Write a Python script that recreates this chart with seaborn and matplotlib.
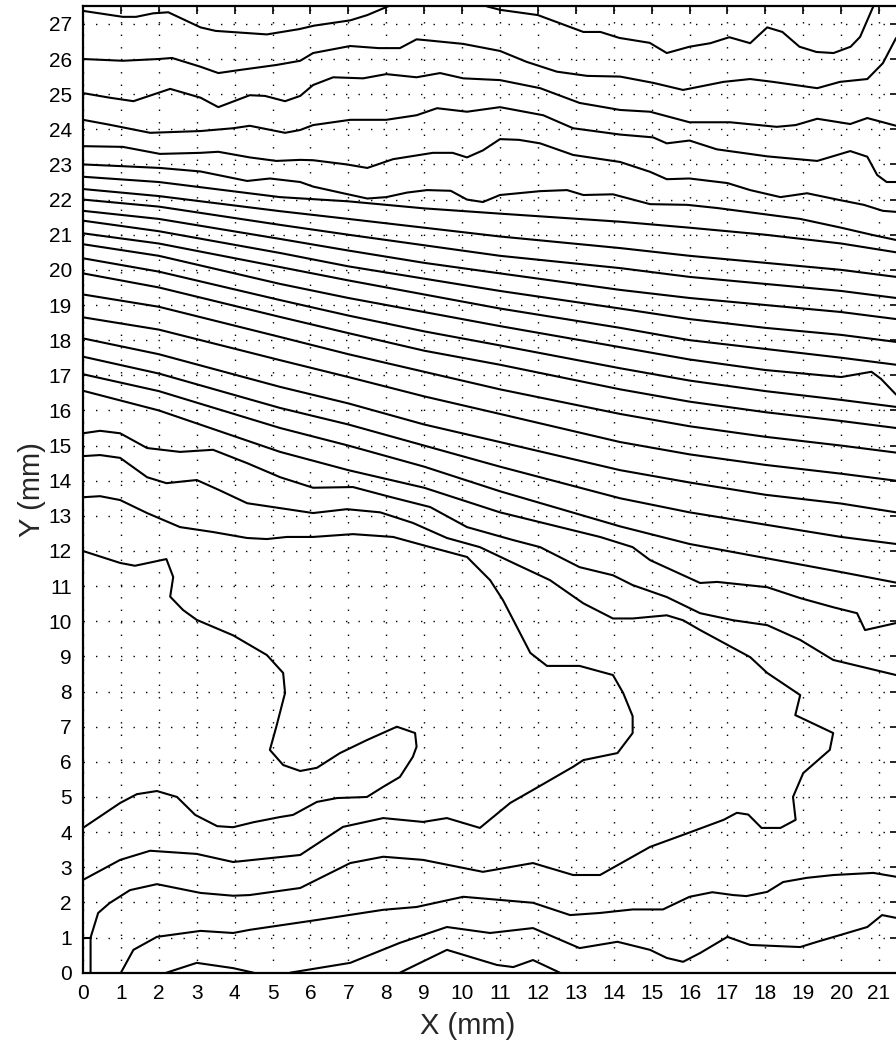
import matplotlib
matplotlib.use("Agg")
import matplotlib.pyplot as plt
import numpy as np
import pandas as pd
import seaborn as sns

# ---- contour lines (x, y in mm) ----
c_top1_x = [0, 1.05, 1.4, 1.85, 2.25, 3.1, 3.5, 4.85, 5.7, 6.1, 7.05, 7.5, 8.05]
c_top1_y = [27.37, 27.2, 27.2, 27.3, 27.33, 26.9, 26.8, 26.7, 26.85, 26.95, 27.1, 27.25, 27.5]
c_top2_x = [10.65, 11.0, 12.0, 13.2, 13.65, 14.15, 14.95, 15.4, 16.0, 16.55, 17.05, 17.6, 18.05, 18.45, 18.9, 19.35, 19.8, 20.25, 20.5, 20.85]
c_top2_y = [27.5, 27.4, 27.25, 26.77, 26.77, 26.6, 26.46, 26.17, 26.35, 26.45, 26.62, 26.45, 26.9, 26.77, 26.35, 26.2, 26.17, 26.35, 26.63, 27.5]
c_26_x = [0, 1.05, 2.0, 2.35, 3.1, 3.57, 4.15, 5.1, 5.73, 6.07, 7.05, 7.8, 8.36, 8.8, 9.1, 10.03, 11.0, 11.7, 12.5, 13.3, 14.17, 15.05, 15.83, 16.9, 17.6, 18.2, 19.37, 19.97, 20.69, 21.1, 21.45]
c_26_y = [26.0, 25.95, 26.0, 26.03, 25.78, 25.6, 25.69, 25.83, 25.95, 26.17, 26.37, 26.31, 26.31, 26.56, 26.53, 26.43, 26.23, 25.92, 25.64, 25.52, 25.5, 25.32, 25.12, 25.35, 25.43, 25.35, 25.17, 25.35, 25.43, 25.88, 26.6]
c_25_x = [0, 0.7, 1.33, 2.3, 3.1, 3.57, 4.4, 4.8, 5.33, 5.73, 6.07, 6.6, 7.39, 8.0, 8.8, 9.42, 10.03, 11.0, 12.06, 13.1, 14.17, 14.96, 16.0, 17.07, 18.3, 18.8, 19.37, 20.24, 20.69, 21.45]
c_25_y = [25.03, 24.9, 24.8, 25.15, 24.9, 24.63, 24.97, 24.95, 24.8, 24.95, 25.26, 25.48, 25.45, 25.57, 25.48, 25.6, 25.45, 25.4, 25.17, 24.75, 24.55, 24.5, 24.2, 24.2, 24.07, 24.12, 24.3, 24.15, 24.32, 24.1]
c_24_x = [0, 0.7, 1.77, 3.1, 3.96, 4.4, 5.33, 5.73, 6.07, 7.05, 8.0, 8.8, 9.34, 10.13, 11.0, 12.14, 12.93, 14.17, 15.04, 15.4, 16.0, 16.72, 18.05, 19.37, 20.24, 20.69, 20.95, 21.2, 21.45]
c_24_y = [24.27, 24.13, 23.9, 23.95, 24.03, 24.1, 23.9, 23.98, 24.12, 24.27, 24.27, 24.4, 24.6, 24.5, 24.63, 24.4, 24.03, 23.85, 23.77, 23.6, 23.68, 23.43, 23.23, 23.1, 23.38, 23.22, 22.7, 22.5, 22.5]
c_23a_x = [0, 1.05, 2.03, 3.1, 3.57, 4.4, 5.1, 5.73, 6.07, 6.96, 7.5, 8.18, 9.23, 9.75, 10.13, 10.55, 11.0, 11.5, 12.06, 12.93, 14.17, 14.96, 15.4, 16.0, 17.0, 17.6, 18.4, 19.1, 19.9, 20.6, 21.1, 21.45]
c_23a_y = [23.52, 23.5, 23.3, 23.33, 23.36, 23.2, 23.1, 23.13, 23.12, 23.0, 22.9, 23.15, 23.33, 23.33, 23.2, 23.4, 23.72, 23.7, 23.6, 23.27, 23.07, 22.79, 22.58, 22.6, 22.47, 22.27, 22.07, 22.18, 22.0, 21.85, 21.68, 21.65]
c_23b_x = [0, 1.05, 2.03, 3.1, 4.33, 4.93, 5.73, 6.07, 6.78, 7.5, 8.0, 8.55, 9.08, 9.7, 10.13, 10.55, 11.0, 12.06, 12.77, 13.2, 13.98, 14.96, 15.94, 16.73, 17.86, 18.92, 20.0, 20.8, 21.45]
c_23b_y = [23.0, 22.95, 22.9, 22.8, 22.53, 22.6, 22.5, 22.37, 22.2, 22.03, 22.07, 22.2, 22.27, 22.25, 22.0, 21.93, 22.13, 22.24, 22.27, 22.13, 22.15, 21.87, 21.85, 21.76, 21.6, 21.45, 21.2, 21.0, 20.85]

band_x = [0, 2, 5.2, 7, 9, 11, 14.17, 16, 18, 20, 21.45]
band_g_y = [22.65, 22.5, 22.07, 21.95, 21.75, 21.6, 21.37, 21.2, 21.0, 20.75, 20.5]
band_h_y = [22.3, 22.1, 21.67, 21.45, 21.2, 20.95, 20.62, 20.4, 20.2, 20.0, 19.8]
band_i_y = [22.0, 21.8, 21.28, 21.0, 20.7, 20.4, 20.05, 19.8, 19.6, 19.4, 19.2]
band_j_y = [21.68, 21.45, 20.88, 20.55, 20.2, 19.9, 19.43, 19.2, 19.0, 18.8, 18.6]
band_k_y = [21.4, 21.1, 20.48, 20.1, 19.75, 19.4, 18.9, 18.6, 18.35, 18.15, 17.95]
band_l_y = [21.04, 20.75, 20.08, 19.7, 19.3, 18.9, 18.35, 18.0, 17.75, 17.5, 17.3]
band_m_x = [0, 2, 5.2, 7, 9, 11, 14.17, 16, 18, 20, 20.8, 21.05, 21.45]
band_m_y = [20.73, 20.4, 19.6, 19.2, 18.8, 18.4, 17.8, 17.45, 17.15, 16.95, 17.1, 16.9, 16.45]
band_n_y = [20.33, 19.95, 19.14, 18.7, 18.25, 17.85, 17.2, 16.85, 16.55, 16.3, 16.1]
band_o_y = [19.9, 19.5, 18.66, 18.2, 17.7, 17.3, 16.6, 16.25, 15.95, 15.7, 15.5]
band_p_y = [19.3, 18.95, 18.09, 17.6, 17.1, 16.6, 15.9, 15.55, 15.25, 15.0, 14.8]
band_q_y = [18.65, 18.3, 17.43, 16.95, 16.4, 15.9, 15.1, 14.75, 14.45, 14.2, 14.0]
band_r_y = [18.05, 17.6, 16.67, 16.2, 15.6, 15.1, 14.3, 13.95, 13.6, 13.35, 13.1]
band_s_y = [17.53, 17.05, 16.07, 15.6, 15.0, 14.4, 13.5, 13.1, 12.75, 12.4, 12.2]
band_t_y = [17.03, 16.55, 15.5, 15.0, 14.4, 13.7, 12.7, 12.2, 11.8, 11.4, 11.1]

c_notch_x = [0, 2, 5.2, 7, 9, 11, 13.64, 14.5, 14.96, 16.28, 16.73, 18.05, 18.92, 19.79, 20.42, 20.63, 21.45]
c_notch_y = [16.56, 16.0, 14.82, 14.3, 13.8, 13.1, 12.4, 12.11, 11.74, 11.09, 11.12, 10.97, 10.66, 10.4, 10.23, 9.75, 9.95]
c_15_x = [0, 0.45, 0.98, 1.69, 2.56, 3.43, 4.33, 5.2, 6.07, 7.12, 8.1, 9.16, 10.13, 11.35, 12.06, 13.1, 13.98, 14.5, 15.4, 16.28, 17.15, 18.05, 18.92, 19.79, 21.45]
c_15_y = [15.35, 15.42, 15.35, 14.93, 14.82, 14.88, 14.5, 14.1, 13.8, 13.82, 13.54, 13.25, 12.68, 12.31, 12.11, 11.54, 11.31, 11.03, 10.69, 10.23, 10.03, 9.89, 9.47, 8.9, 8.47]
c_14_x = [0, 0.45, 0.98, 1.69, 2.2, 3.0, 3.6, 4.33, 5.2, 6.07, 6.96, 7.84, 8.7, 9.6, 10.47, 11.35, 12.32, 13.2, 13.98, 14.5, 15.4, 15.83, 16.28, 17.6, 18.05, 18.92, 18.79, 19.79, 19.7, 19.0, 18.73, 18.8, 18.4, 17.9, 17.55, 17.25, 16.9, 15.9, 14.96, 13.64, 12.93, 11.87, 10.55, 8.97, 7.92, 7.05, 5.73, 4.4, 3.96, 3.1, 1.95, 1.24, 0.7, 0.4, 0.2, 0.2]
c_14_y = [14.7, 14.73, 14.65, 14.1, 13.93, 14.02, 13.73, 13.36, 13.22, 13.08, 13.19, 13.1, 12.8, 12.37, 12.11, 11.66, 11.17, 10.51, 10.08, 10.08, 10.17, 10.03, 9.75, 8.98, 8.53, 7.9, 7.33, 6.82, 6.34, 5.68, 5.0, 4.35, 4.12, 4.12, 4.5, 4.55, 4.35, 3.95, 3.58, 2.78, 2.78, 3.12, 2.87, 3.21, 3.3, 3.12, 2.41, 2.21, 2.19, 2.27, 2.52, 2.35, 1.98, 1.7, 1.0, 0.0]
c_13_x = [0, 0.45, 0.98, 1.69, 2.56, 3.43, 4.33, 4.85, 5.38, 6.07, 7.12, 8.18, 9.16, 10.13, 10.74, 11.08, 11.45, 11.8, 12.24, 13.1, 13.98, 14.25, 14.5, 14.5, 14.1, 13.2, 12.93, 11.87, 11.27, 10.47, 9.6, 8.97, 7.92, 6.86, 5.73, 3.96, 3.0, 1.77, 0.98, 0]
c_13_y = [13.53, 13.56, 13.45, 13.08, 12.68, 12.54, 12.37, 12.34, 12.4, 12.4, 12.48, 12.4, 12.11, 11.83, 11.17, 10.6, 9.83, 9.1, 8.73, 8.73, 8.47, 7.96, 7.3, 6.82, 6.25, 6.05, 5.86, 5.2, 4.83, 4.12, 4.4, 4.29, 4.4, 4.15, 3.35, 3.15, 3.38, 3.47, 3.21, 2.64]
c_12_x = [0, 0.98, 1.37, 2.2, 2.38, 2.3, 2.64, 3.0, 3.96, 4.85, 5.28, 5.33, 5.1, 4.93, 5.28, 5.73, 6.17, 6.78, 7.49, 8.28, 8.76, 8.8, 8.7, 8.36, 7.92, 7.49, 6.7, 6.17, 5.54, 5.2, 4.49, 3.96, 3.54, 2.96, 2.48, 1.95, 1.42, 0.98, 0]
c_12_y = [12.0, 11.66, 11.58, 11.77, 11.26, 10.7, 10.32, 10.04, 9.6, 9.04, 8.53, 7.96, 7.0, 6.34, 5.91, 5.74, 5.83, 6.25, 6.62, 7.0, 6.82, 6.43, 6.14, 5.57, 5.29, 5.0, 4.97, 4.86, 4.49, 4.43, 4.28, 4.14, 4.17, 4.49, 5.0, 5.17, 5.08, 4.83, 4.12]
c_2_x = [1.0, 1.33, 1.95, 3.1, 3.96, 4.4, 6.17, 7.92, 8.8, 10.03, 11.87, 12.85, 13.64, 14.5, 15.3, 16.0, 16.6, 17.15, 17.5, 18.05, 18.47, 19.1, 19.8, 20.85, 21.45]
c_2_y = [0.0, 0.65, 1.02, 1.19, 1.13, 1.22, 1.5, 1.79, 1.87, 2.16, 1.99, 1.64, 1.7, 1.8, 1.8, 2.16, 2.29, 2.21, 2.18, 2.3, 2.58, 2.7, 2.78, 2.84, 2.73]
c_1_x = [5.46, 7.05, 8.36, 9.6, 10.74, 11.87, 13.1, 14.1, 14.96, 15.4, 15.83, 16.28, 17.0, 17.6, 18.92, 19.37, 20.0, 20.69, 21.08, 21.45]
c_1_y = [0.0, 0.28, 0.85, 1.3, 1.13, 1.27, 0.7, 0.88, 0.65, 0.42, 0.31, 0.56, 1.02, 0.79, 0.73, 0.88, 1.08, 1.3, 1.64, 1.56]
c_b1_x = [2.2, 3.0, 3.96, 4.5]
c_b1_y = [0.0, 0.28, 0.13, 0.0]
c_b2_x = [8.36, 9.6, 10.92, 11.35, 11.87, 12.58]
c_b2_y = [0.0, 0.65, 0.22, 0.16, 0.36, 0.0]
c_box_x = [0.0, 0.2]
c_box_y = [1.0, 1.0]

lines = {
    "top1": (c_top1_x, c_top1_y), "top2": (c_top2_x, c_top2_y),
    "c26": (c_26_x, c_26_y), "c25": (c_25_x, c_25_y), "c24": (c_24_x, c_24_y),
    "c23a": (c_23a_x, c_23a_y), "c23b": (c_23b_x, c_23b_y),
    "g": (band_x, band_g_y), "h": (band_x, band_h_y), "i": (band_x, band_i_y),
    "j": (band_x, band_j_y), "k": (band_x, band_k_y), "l": (band_x, band_l_y),
    "m": (band_m_x, band_m_y), "n": (band_x, band_n_y), "o": (band_x, band_o_y),
    "p": (band_x, band_p_y), "q": (band_x, band_q_y), "r": (band_x, band_r_y),
    "s": (band_x, band_s_y), "t": (band_x, band_t_y),
    "notch": (c_notch_x, c_notch_y), "c15": (c_15_x, c_15_y),
    "c14": (c_14_x, c_14_y), "c13": (c_13_x, c_13_y), "c12": (c_12_x, c_12_y),
    "c2": (c_2_x, c_2_y), "c1": (c_1_x, c_1_y), "b1": (c_b1_x, c_b1_y),
    "b2": (c_b2_x, c_b2_y), "box": (c_box_x, c_box_y),
}
rows = []
for name, (xs, ys) in lines.items():
    for k, (xv, yv) in enumerate(zip(xs, ys)):
        rows.append({"line": name, "order": k, "x": xv, "y": yv})
df = pd.DataFrame(rows)

x_ticks = list(range(0, 22))
y_ticks = list(range(0, 28))

sns.set_theme(style="white")
plt.rcParams["font.family"] = ["Liberation Sans", "DejaVu Sans"]

fig = plt.figure(figsize=(8.96, 10.53), dpi=100)
ax = fig.add_axes([83 / 896, (1053 - 972.7) / 1053, 815 / 896, 966.4 / 1053])

sns.lineplot(data=df, x="x", y="y", units="line", estimator=None, sort=False,
             color="black", linewidth=1.5, legend=False, ax=ax)

ax.set_xlim(0, 21.5)
ax.set_ylim(0, 27.5)
ax.set_xticks(x_ticks)
ax.set_yticks(y_ticks)
ax.grid(True, color="black", linestyle=(0, (1, 8)), linewidth=1.0)
ax.tick_params(direction="in", length=6, width=1.2, top=True, right=True,
               labelsize=15, pad=8, colors="black")
for sp in ax.spines.values():
    sp.set_color("black")
    sp.set_linewidth(1.6)
ax.set_xlabel("X (mm)", fontsize=21)
ax.set_ylabel("Y (mm)", fontsize=21)
ax.xaxis.set_label_coords(0.472, -0.041)
ax.yaxis.set_label_coords(-0.046, 0.5)

fig.savefig("out.png", dpi=100)
